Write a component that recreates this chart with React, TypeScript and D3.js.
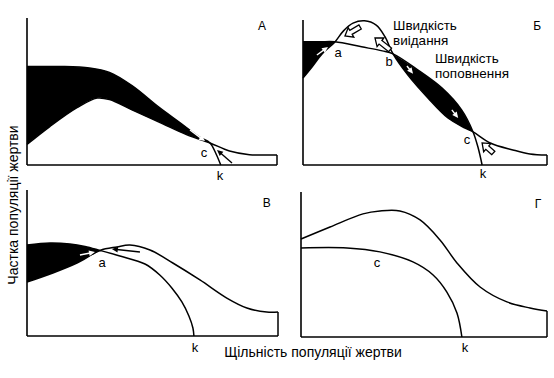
import React from "react";
import * as d3 from "d3";

type P = [number, number];

// Panel А
const recruitA: P[] = [[0,67],[13,67],[25,66],[33,63],[42,54],[53,39],[61,29],[69,19],[73.2,15],[75.5,8],[77.5,0]];
const predA: P[] = [[0,14],[9,26],[20,39],[28,45.5],[33,44.5],[42,37.5],[53,29],[64,20.5],[73.2,15],[81,9.5],[89,7],[95,6.8],[100,6.8]];
// Panel Б
const recruitB: P[] = [[0,85],[7,85],[13.1,85],[24,81.5],[32.5,78.7],[36.9,76.6],[47,65.6],[57,53],[65,38],[69.7,22.8],[71.8,11.7],[73.4,0]];
const predB: P[] = [[0,60],[3.7,67.6],[7.8,76.6],[13.1,84.9],[16.6,92.5],[20.5,97.8],[25.2,99.4],[30,96.5],[33.6,88.5],[36.9,76.6],[43,62],[51.2,46.2],[59.4,32.4],[66.4,25.5],[69.7,22.8],[76.7,15.2],[86,10.4],[93,7.6],[100,6.9]];
// Panel В
const recruitV: P[] = [[0,62.3],[9.2,63.7],[17.1,63],[23.1,61.3],[29.1,58.6],[37,54.8],[47,49.3],[52.9,41.8],[57.7,32.9],[61.7,23.3],[64.5,13.7],[66.1,5.5],[66.5,0]];
const predV: P[] = [[0,37],[10.3,43.2],[19.9,50],[29.1,58.6],[35.8,61],[41,62.3],[49,58.9],[58.1,50],[68.9,38.4],[79.6,26],[87.6,19.2],[95.5,16.4],[100,16.4]];
// Panel Г
const upperG: P[] = [[0,67.6],[11.8,75.9],[25.2,84.9],[32.1,86.9],[40.2,86.9],[48.4,80.7],[56.5,66.9],[63.4,51.1],[72.8,34.5],[83.7,24.2],[93.1,20],[100,17.9]];
const lowerG: P[] = [[0,61.4],[18.7,61.4],[32.1,58.7],[45.5,51.8],[53.7,42.8],[59.3,31],[63.4,16.6],[65.4,0]];

// fills: [x from, x to] between upper and lower curves
const fillsA: P[] = [[0, 73.2]];
const fillsB: P[] = [[0, 13.1], [36.9, 69.7]];
const fillsV: P[] = [[0, 29.1]];
const fillsG: P[] = [];

type Arrow = { x1: number; y1: number; x2: number; y2: number; kind: "black" | "white" | "hollow" };
const arrowsA: Arrow[] = [
  { x1: 82, y1: 1.4, x2: 76, y2: 10.2, kind: "black" },
  { x1: 65.2, y1: 23.8, x2: 71.2, y2: 16.3, kind: "white" },
];
const arrowsB: Arrow[] = [
  { x1: 5.7, y1: 75.9, x2: 10.25, y2: 81.4, kind: "white" },
  { x1: 23.4, y1: 95.2, x2: 17.2, y2: 89, kind: "hollow" },
  { x1: 35.7, y1: 79.4, x2: 29.5, y2: 87.6, kind: "hollow" },
  { x1: 42.6, y1: 68.3, x2: 45.1, y2: 63, kind: "white" },
  { x1: 61, y1: 38, x2: 63.6, y2: 32.4, kind: "white" },
  { x1: 78, y1: 8.3, x2: 73.4, y2: 15.2, kind: "hollow" },
];
const arrowsV: Arrow[] = [
  { x1: 21.1, y1: 55.5, x2: 27.1, y2: 57.5, kind: "white" },
  { x1: 45, y1: 57.5, x2: 33.8, y2: 59.6, kind: "black" },
];
const arrowsG: Arrow[] = [];

type Label = { t: string; x: number; y: number; anchor?: string; size?: number };
const labelsA: Label[] = [
  { t: "А", x: 94, y: 91.8, size: 12 },
  { t: "c", x: 70.8, y: 5.4 },
  { t: "k", x: 77.2, y: -10.2 },
];
const labelsB: Label[] = [
  { t: "Б", x: 96, y: 93, size: 12 },
  { t: "a", x: 14.35, y: 74.5 },
  { t: "b", x: 35.3, y: 68.3 },
  { t: "c", x: 67.2, y: 14.5 },
  { t: "k", x: 73.8, y: -9 },
  { t: "Швидкість", x: 36.9, y: 92.8, anchor: "start", size: 13.5 },
  { t: "виідання", x: 36.9, y: 82.8, anchor: "start", size: 13.5 },
  { t: "Швидкість", x: 54.1, y: 70.2, anchor: "start", size: 13.5 },
  { t: "поповнення", x: 54.1, y: 60.2, anchor: "start", size: 13.5 },
];
const labelsV: Label[] = [
  { t: "В", x: 95.5, y: 88.4, size: 12 },
  { t: "a", x: 29.9, y: 47.3 },
  { t: "k", x: 66.9, y: -11 },
];
const labelsG: Label[] = [
  { t: "Г", x: 96.3, y: 89, size: 12 },
  { t: "c", x: 30.9, y: 48.3 },
  { t: "k", x: 66.7, y: -10.4 },
];

const xTitle = "Щільність популяції жертви";
const yTitle = "Частка популяції жертви";

const panels = [
  { left: 27, right: 277, top: 18, base: 165, upper: recruitA, lower: predA, tail: predA, fills: fillsA, arrows: arrowsA, labels: labelsA },
  { left: 303, right: 547, top: 20, base: 165, upper: recruitB, lower: predB, tail: predB, fills: fillsB, arrows: arrowsB, labels: labelsB },
  { left: 27, right: 278, top: 190, base: 336, upper: recruitV, lower: predV, tail: predV, fills: fillsV, arrows: arrowsV, labels: labelsV },
  { left: 301, right: 547, top: 192, base: 337, upper: upperG, lower: lowerG, tail: upperG, fills: fillsG, arrows: arrowsG, labels: labelsG },
];

const FONT = "'Liberation Sans', Arial, sans-serif";

function Panel({ p }: { p: (typeof panels)[number] }) {
  const x = d3.scaleLinear().domain([0, 100]).range([p.left, p.right]);
  const y = d3.scaleLinear().domain([0, 100]).range([p.base, p.top]);
  const line = d3
    .line<P>()
    .x((d) => x(d[0]))
    .y((d) => y(d[1]))
    .curve(d3.curveCatmullRom.alpha(0.5));

  const fillPaths = p.fills.map(([a, b]) => {
    const up = p.upper.filter((d) => d[0] >= a - 1e-6 && d[0] <= b + 1e-6);
    const lo = p.lower.filter((d) => d[0] >= a - 1e-6 && d[0] <= b + 1e-6).reverse();
    const s1 = line(up) || "";
    const s2 = (line(lo) || "").replace(/^M/, "L");
    return s1 + s2 + "Z";
  });

  const last = p.tail[p.tail.length - 1];

  const arrowEls = p.arrows.map((a, i) => {
    const x1 = x(a.x1), y1 = y(a.y1), x2 = x(a.x2), y2 = y(a.y2);
    const L = Math.hypot(x2 - x1, y2 - y1);
    const ang = (Math.atan2(y2 - y1, x2 - x1) * 180) / Math.PI;
    if (a.kind === "hollow") {
      const hl = 7, sw = 2.3, hw = 5.5;
      const pts = [[0, -sw], [L - hl, -sw], [L - hl, -hw], [L, 0], [L - hl, hw], [L - hl, sw], [0, sw]]
        .map((q) => q.join(",")).join(" ");
      return (
        <polygon key={i} points={pts} transform={`translate(${x1},${y1}) rotate(${ang})`}
          fill="#fff" stroke="#000" strokeWidth={1.3} strokeLinejoin="miter" />
      );
    }
    const col = a.kind === "black" ? "#000" : "#fff";
    const hl = 6, hw = 2.8;
    return (
      <g key={i} transform={`translate(${x1},${y1}) rotate(${ang})`}>
        <line x1={0} y1={0} x2={L - hl + 1} y2={0} stroke={col} strokeWidth={1.4} />
        <polygon points={`${L - hl},${-hw} ${L},0 ${L - hl},${hw}`} fill={col} />
      </g>
    );
  });

  return (
    <g>
      {fillPaths.map((d, i) => (
        <path key={i} d={d} fill="#000" stroke="none" />
      ))}
      <path d={line(p.upper) || ""} fill="none" stroke="#000" strokeWidth={1.5} />
      <path d={line(p.lower) || ""} fill="none" stroke="#000" strokeWidth={1.5} />
      <line x1={x(last[0])} y1={y(last[1])} x2={x(last[0])} y2={y(0)} stroke="#000" strokeWidth={1.5} />
      <line x1={x(0)} y1={p.top} x2={x(0)} y2={y(0)} stroke="#000" strokeWidth={1.6} />
      <line x1={x(0)} y1={y(0)} x2={x(100)} y2={y(0)} stroke="#000" strokeWidth={1.6} />
      {arrowEls}
      {p.labels.map((l, i) => (
        <text key={i} x={x(l.x)} y={y(l.y)} textAnchor={(l.anchor as any) || "middle"}
          fontFamily={FONT} fontSize={l.size || 13} fill="#000">
          {l.t}
        </text>
      ))}
    </g>
  );
}

export default function App() {
  return (
    <svg width={554} height={378} style={{ position: "absolute", left: 0, top: 0, background: "#fff" }}>
      <rect width={554} height={378} fill="#fff" />
      {panels.map((p, i) => (
        <Panel key={i} p={p} />
      ))}
      <text x={313} y={357} textAnchor="middle" fontFamily={FONT} fontSize={14} fill="#000">
        {xTitle}
      </text>
      <text transform="translate(18,205) rotate(-90)" textAnchor="middle" fontFamily={FONT} fontSize={14} fill="#000">
        {yTitle}
      </text>
    </svg>
  );
}
